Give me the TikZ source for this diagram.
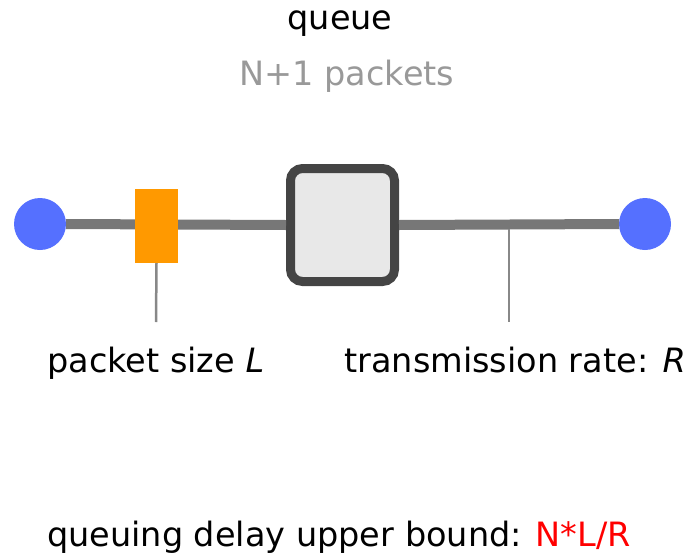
\documentclass[tikz,border=0pt]{standalone}
\usepackage{fontspec}
\setmainfont{DejaVu Sans}
\begin{document}
\begin{tikzpicture}[x=1pt,y=-1pt,
  lbl/.style={font=\fontsize{33.5}{38}\selectfont, inner sep=0pt, anchor=base},
  wire/.style={draw=linegray, line width=10pt},
  tick/.style={draw=tickgray, line width=2.5pt},
  endpt/.style={circle, fill=hostblue, minimum size=52pt, inner sep=0pt},
]
\definecolor{linegray}{HTML}{777777}
\definecolor{tickgray}{HTML}{888888}
\definecolor{hostblue}{HTML}{5570FF}
\definecolor{pktorange}{HTML}{FF9900}
\definecolor{qborder}{HTML}{444444}
\definecolor{qfill}{HTML}{E8E8E8}
\definecolor{subgray}{HTML}{999999}
\useasboundingbox (0,0) rectangle (694,560);
\node[endpt] (src) at (40,224) {};
\node[endpt] (dst) at (645,224) {};
\node[draw=qborder, fill=qfill, line width=9pt, rounded corners=12pt, minimum width=104pt, minimum height=113pt, inner sep=0pt] (q) at (342.5,225) {};
\draw[wire] (src.east) -- (q.west);
\draw[wire] (q.east) -- (dst.west);
\node[fill=pktorange, minimum width=43pt, minimum height=74pt, inner sep=0pt] (pkt) at (156.5,226) {};
\coordinate (t1) at (156,322);
\coordinate (r0) at (509,229);
\coordinate (t2) at (509,322);
\draw[tick] (pkt.south) -- (t1);
\draw[tick] (r0) -- (t2);
\node[lbl] (ql) at (340,29) {queue};
\node[lbl, text=subgray] (np) at (347,85) {N+1 packets};
\node[lbl, anchor=base west] (ps) at (47,372) {packet size \textit{L}};
\node[lbl, anchor=base east] (tr) at (686,372) {transmission rate: \textit{R}};
\node[lbl, anchor=base west] (qd) at (47,546) {queuing delay upper bound: \textcolor{red}{N*L/R}};
\end{tikzpicture}
\end{document}
